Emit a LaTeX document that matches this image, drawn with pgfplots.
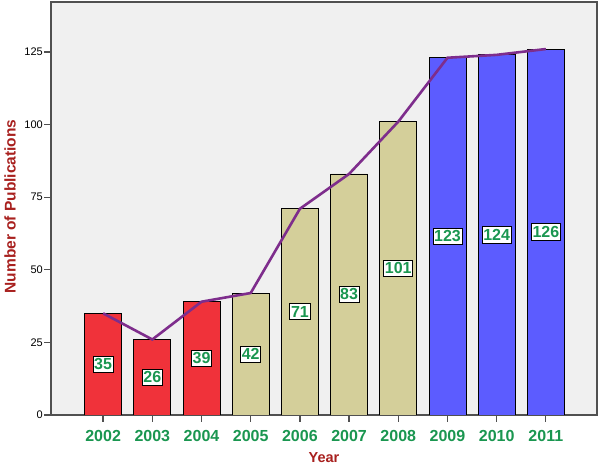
\documentclass[border=0pt]{standalone}
\usepackage{pgfplots}
\pgfplotsset{compat=1.18}
\usepackage{fontspec}
\setmainfont{Liberation Sans}
\definecolor{barred}{HTML}{F0323A}
\definecolor{barkhaki}{HTML}{D4CF9A}
\definecolor{barblue}{HTML}{5C5CFF}
\definecolor{linepurple}{HTML}{7E2D8C}
\definecolor{txtgreen}{HTML}{1A9650}
\definecolor{labred}{HTML}{A8201E}
\definecolor{bggray}{HTML}{F0F0F0}
\definecolor{axgray}{HTML}{505050}
\begin{document}
\begin{tikzpicture}
\begin{axis}[
  scale only axis,
  width=546pt, height=413pt,
  xmin=-1.06, xmax=10.04,
  ymin=0, ymax=142.2,
  axis background/.style={fill=bggray},
  axis line style={axgray, line width=1.3pt},
  tick style={axgray, line width=1.3pt},
  xtick={0,...,9},
  xticklabels={2002,2003,2004,2005,2006,2007,2008,2009,2010,2011},
  ytick={0,25,50,75,100,125},
  xtick pos=bottom, ytick pos=left,
  tick align=outside,
  major tick length=7pt,
  x tick label style={font=\fontsize{16}{16}\selectfont\bfseries, text=txtgreen, yshift=-5pt},
  y tick label style={font=\fontsize{11}{12}\selectfont, text=black, inner sep=1pt},
  /pgf/number format/assume math mode=true,
  xlabel={Year}, ylabel={Number of Publications},
  xlabel style={font=\fontsize{14.5}{15}\selectfont\bfseries, text=labred,
    at={(axis description cs:0.5,-0.1041)}, anchor=center},
  ylabel style={font=\fontsize{15.5}{16}\selectfont\bfseries, text=labred,
    at={(axis description cs:-0.0751,0.505)}, anchor=center, rotate=0},
]
\addplot[ybar, bar width=0.75, bar shift=0pt, fill=barred, draw=black, line width=0.8pt]
  coordinates {(0,35) (1,26) (2,39)};
\addplot[ybar, bar width=0.75, bar shift=0pt, fill=barkhaki, draw=black, line width=0.8pt]
  coordinates {(3,42) (4,71) (5,83) (6,101)};
\addplot[ybar, bar width=0.75, bar shift=0pt, fill=barblue, draw=black, line width=0.8pt]
  coordinates {(7,123) (8,124) (9,126)};
\addplot[sharp plot, linepurple, line width=2.6pt, mark=none]
  coordinates {(0,35) (1,26) (2,39) (3,42) (4,71) (5,83) (6,101) (7,123) (8,124) (9,126)};
\addplot[only marks, mark=none, point meta=explicit symbolic,
  nodes near coords,
  every node near coord/.style={anchor=center, fill=white, draw=black, line width=0.8pt,
    inner xsep=1.2pt, inner ysep=2.5pt, text=txtgreen, font=\fontsize{16}{16}\selectfont\bfseries}]
  coordinates {(0,17.5)[35] (1,13)[26] (2,19.5)[39] (3,21)[42] (4,35.5)[71] (5,41.5)[83]
    (6,50.5)[101] (7,61.5)[123] (8,62)[124] (9,63)[126]};
\end{axis}
\pgfresetboundingbox
\path[use as bounding box] ([xshift=-51pt,yshift=-55pt]current axis.south west) rectangle ([xshift=3pt,yshift=2pt]current axis.north east);
\end{tikzpicture}
\end{document}
